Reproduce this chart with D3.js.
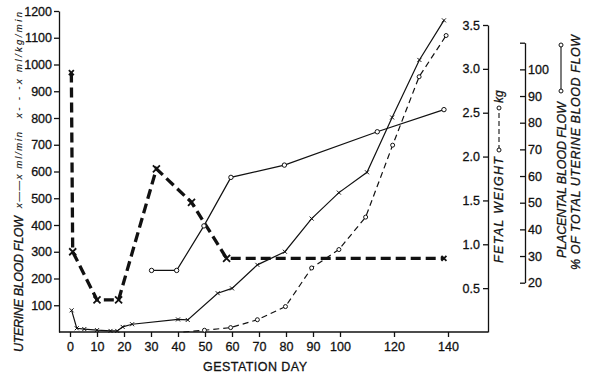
<!DOCTYPE html>
<html>
<head>
<meta charset="utf-8">
<script src="https://cdn.jsdelivr.net/npm/d3@7"></script>
<style>
  body { margin: 0; background: #fff; }
  text { font-family: "Liberation Sans", Arial, sans-serif; fill: #111; stroke: #111; stroke-width: 0.3px; }
</style>
</head>
<body>
<svg id="chart"></svg>
<script>
// tick values
var dayTicks = [0, 10, 20, 30, 40, 50, 60, 70, 80, 90, 100, 120, 140];
var flowTicks = [100, 200, 300, 400, 500, 600, 700, 800, 900, 1000, 1100, 1200];
var kgTicks = [0.5, 1.0, 1.5, 2.0, 2.5, 3.0, 3.5];
var pctTicks = [20, 30, 40, 50, 60, 70, 80, 90, 100, 110];

// uterine blood flow, ml/kg/min (thick dashed, X)
var flowKgDay = [0.5, 1, 10, 18, 32, 45, 58, 138.5];
var flowKgVal = [970, 300, 120, 120, 610, 485, 275, 275];

// uterine blood flow, ml/min (solid, x)
var flowDay = [0.6, 2.5, 5.3, 10, 15, 17.5, 19.5, 23, 40, 43.6, 54.7, 60, 69.4, 79.6, 89.5, 99.6, 110, 119.3, 129.4, 138.5];
var flowVal = [81, 14, 11, 7, 4, 4, 19, 29, 47, 45, 145, 163, 251, 300, 424, 521, 597, 802, 1017, 1165];

// fetal weight, kg (thin dashed, circles)
var fetalDay = [42, 49.8, 59.5, 69.4, 79.8, 89.5, 99.6, 109.5, 119.5, 129.3, 139.3];
var fetalKg = [0, 0.02, 0.05, 0.14, 0.29, 0.73, 0.94, 1.31, 2.13, 2.91, 3.38];

// placental blood flow, % of total uterine blood flow (solid, circles)
var placDay = [30.2, 39.5, 49.6, 59.6, 79.4, 113.8, 138.5];
var placPct = [24.6, 24.6, 41.3, 59.5, 64.1, 76.6, 84.9];

var W = 589, H = 376;
var ink = "#111";

var svg = d3.select("#chart")
    .attr("width", W)
    .attr("height", H);

svg.append("rect").attr("width", W).attr("height", H).attr("fill", "#fff");

// scales
var x = d3.scaleLinear().domain([0, 140]).range([70, 448]);
var yFlow = d3.scaleLinear().domain([0, 1200]).range([332, 11]);
var yKg = d3.scaleLinear().domain([0, 3.5]).range([332, 25]);
var yPct = d3.scaleLinear().domain([20, 110]).range([282.7, 42.7]);

var leftX = 59, kgX = 488, pctX = 525, baseY = 332;

function styleAxis(g) {
    g.attr("font-family", null).attr("font-size", null);
    g.selectAll("path, line").attr("stroke", ink).attr("stroke-width", 1.3);
    g.selectAll("text").style("font-size", "12.5px").attr("fill", ink);
}

// bottom axis
svg.append("line")
    .attr("x1", leftX).attr("x2", kgX)
    .attr("y1", baseY).attr("y2", baseY)
    .attr("stroke", ink).attr("stroke-width", 1.3);

svg.append("g")
    .attr("transform", "translate(0," + baseY + ")")
    .call(d3.axisBottom(x).tickValues(dayTicks).tickSize(5).tickPadding(5).tickFormat(d3.format("d")))
    .call(styleAxis)
    .call(function(g) { g.select(".domain").remove(); });

svg.append("text")
    .attr("x", 203).attr("y", 370.5)
    .attr("textLength", 104)
    .style("font-size", "12.5px")
    .text("GESTATION DAY");

// left axis
svg.append("g")
    .attr("transform", "translate(" + leftX + ",0)")
    .call(d3.axisLeft(yFlow).tickValues(flowTicks).tickSize(5).tickSizeOuter(0).tickPadding(2).tickFormat(d3.format("d")))
    .call(styleAxis);

// fetal weight axis
svg.append("g")
    .attr("transform", "translate(" + kgX + ",0)")
    .call(d3.axisLeft(yKg).tickValues(kgTicks).tickSize(5).tickSizeOuter(0).tickPadding(3).tickFormat(d3.format(".1f")))
    .call(styleAxis);

// placental % axis
svg.append("g")
    .attr("transform", "translate(" + pctX + ",0)")
    .call(d3.axisRight(yPct).tickValues(pctTicks).tickSizeInner(-5).tickSizeOuter(0).tickPadding(3)
        .tickFormat(function(d) { return d === 110 ? "" : d; }))
    .call(styleAxis);

// rotated label helper
function vlabel(bx, startY, len, size, txt) {
    var t = svg.append("text")
        .attr("transform", "translate(" + bx + "," + startY + ") rotate(-90)")
        .style("font-size", size + "px")
        .style("font-style", "italic")
        .text(txt);
    if (len) t.attr("textLength", len);
    return t;
}

vlabel(23, 352, 136, 12.5, "UTERINE BLOOD FLOW");
vlabel(22, 208, 76, 9.5, "x——x  ml/min").style("stroke-width", "0.15px");
vlabel(22, 118, 106, 9.5, "x- - -x  ml/kg/min").style("stroke-width", "0.15px");

vlabel(503, 263, 106, 12.5, "FETAL WEIGHT");
vlabel(503, 103, null, 12, "kg");
vlabel(566, 258, 156, 12.5, "PLACENTAL BLOOD FLOW");
vlabel(580, 270, 235, 12.5, "% OF TOTAL UTERINE BLOOD FLOW");

// legend keys
svg.append("line")
    .attr("x1", 499).attr("x2", 499).attr("y1", 150).attr("y2", 108)
    .attr("stroke", ink).attr("stroke-width", 1.1).attr("stroke-dasharray", "5,3");
svg.selectAll(".kgkey").data([150, 108]).enter().append("circle")
    .attr("cx", 499).attr("cy", function(d) { return d; }).attr("r", 2)
    .attr("fill", "#fff").attr("stroke", ink).attr("stroke-width", 1);

svg.append("line")
    .attr("x1", 561).attr("x2", 561).attr("y1", 91).attr("y2", 45)
    .attr("stroke", ink).attr("stroke-width", 1.1);
svg.selectAll(".pctkey").data([91, 45]).enter().append("circle")
    .attr("cx", 561).attr("cy", function(d) { return d; }).attr("r", 2)
    .attr("fill", "#fff").attr("stroke", ink).attr("stroke-width", 1);

// series
function pts(days, vals) {
    return days.map(function(d, i) { return { day: d, v: vals[i] }; });
}

var flowKg = pts(flowKgDay, flowKgVal);
var flow = pts(flowDay, flowVal);
var fetal = pts(fetalDay, fetalKg);
var plac = pts(placDay, placPct);

function lineFor(ys) {
    return d3.line().x(function(d) { return x(d.day); }).y(function(d) { return ys(d.v); });
}

function cross(s) {
    return "M" + (-s) + "," + (-s) + "L" + s + "," + s + "M" + (-s) + "," + s + "L" + s + "," + (-s);
}

// placental (solid with circles)
svg.append("path")
    .datum(plac)
    .attr("d", lineFor(yPct))
    .attr("fill", "none").attr("stroke", ink).attr("stroke-width", 1.2);

// fetal weight (thin dashed with circles)
svg.append("path")
    .datum(fetal)
    .attr("d", lineFor(yKg))
    .attr("fill", "none").attr("stroke", ink).attr("stroke-width", 1.2)
    .attr("stroke-dasharray", "6,4");

// ml/min (solid with small x)
svg.append("path")
    .datum(flow)
    .attr("d", lineFor(yFlow))
    .attr("fill", "none").attr("stroke", ink).attr("stroke-width", 1.2);

// ml/kg/min (thick dashed with X)
svg.append("path")
    .datum(flowKg)
    .attr("d", lineFor(yFlow))
    .attr("fill", "none").attr("stroke", ink).attr("stroke-width", 3.3)
    .attr("stroke-dasharray", "10,5");

svg.selectAll(".pc")
    .data(plac).enter().append("circle")
    .attr("cx", function(d) { return x(d.day); })
    .attr("cy", function(d) { return yPct(d.v); })
    .attr("r", 2.2)
    .attr("fill", "#fff").attr("stroke", ink).attr("stroke-width", 1);

svg.selectAll(".fc")
    .data(fetal.slice(1)).enter().append("circle")
    .attr("cx", function(d) { return x(d.day); })
    .attr("cy", function(d) { return yKg(d.v); })
    .attr("r", 2)
    .attr("fill", "#fff").attr("stroke", ink).attr("stroke-width", 1);

svg.selectAll(".fx")
    .data(flow).enter().append("path")
    .attr("transform", function(d) { return "translate(" + x(d.day) + "," + yFlow(d.v) + ")"; })
    .attr("d", cross(2))
    .attr("stroke", ink).attr("stroke-width", 1);

svg.selectAll(".kx")
    .data(flowKg).enter().append("path")
    .attr("transform", function(d) { return "translate(" + x(d.day) + "," + yFlow(d.v) + ")"; })
    .attr("d", function(d, i) { return cross(i === 0 || i === flowKg.length - 1 ? 2.5 : 3.5); })
    .attr("stroke", ink).attr("stroke-width", 1.8);
</script>
</body>
</html>
